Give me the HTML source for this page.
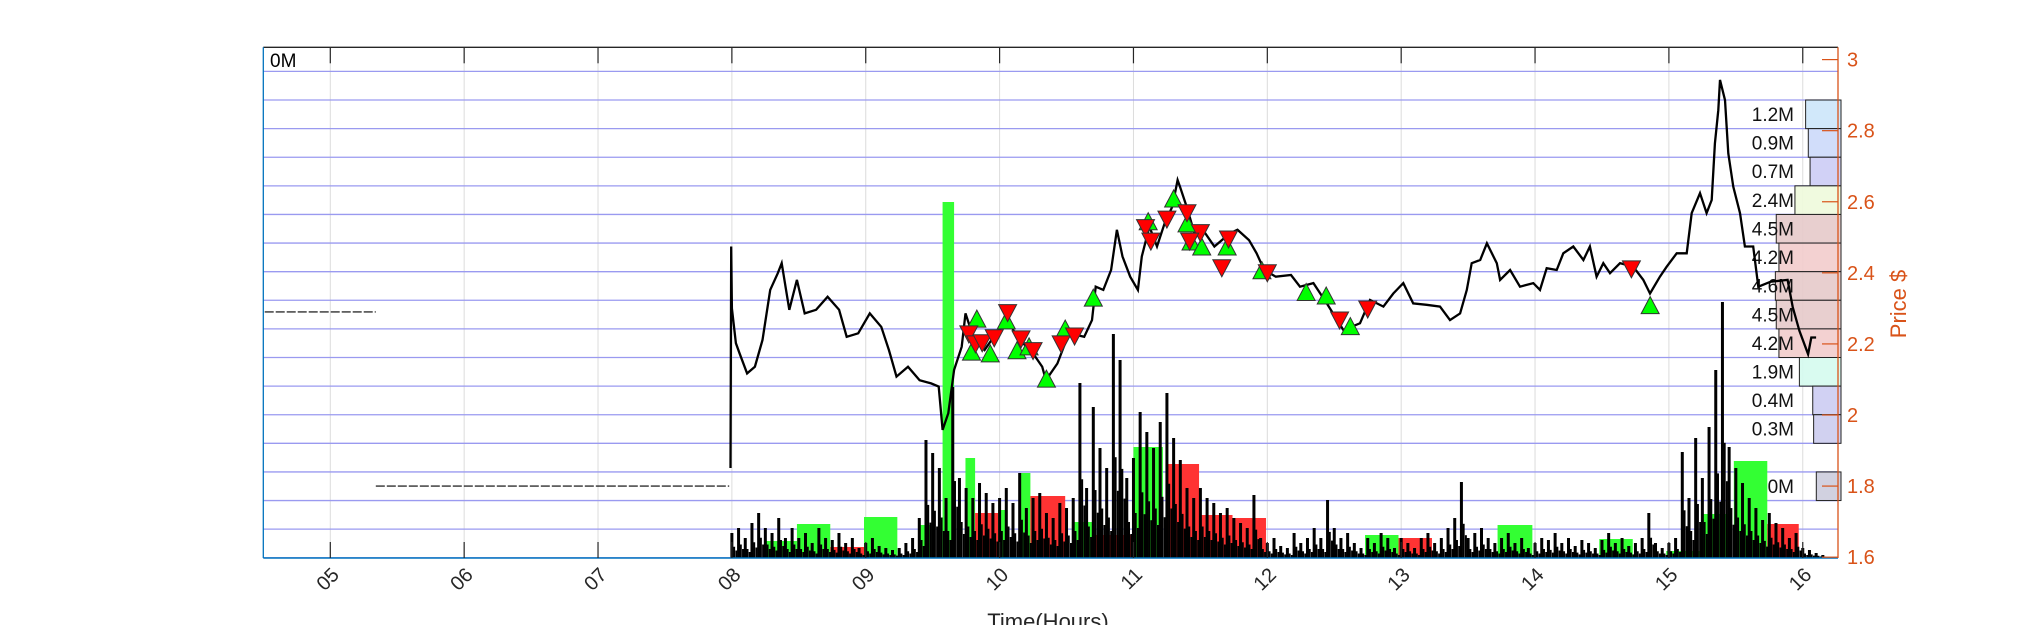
<!DOCTYPE html>
<html><head><meta charset="utf-8">
<style>
html,body{margin:0;padding:0;background:#fff;}
svg{display:block;font-family:"Liberation Sans",sans-serif;}
</style></head>
<body>
<svg id="chart" width="2031" height="625" viewBox="0 0 2031 625">
<rect x="0" y="0" width="2031" height="625" fill="#fff"/>
<g id="grid"></g>
<g id="blocks"></g>
<g id="spikes"></g>
<g id="profile"></g>
<g id="priceg"></g>
<g id="signals"></g>
<g id="axes"></g>
<text x="270" y="67" font-size="19" fill="#000">0M</text>
<text x="1048" y="629" font-size="22" fill="#262626" text-anchor="middle">Time(Hours)</text>
<text transform="translate(1906,304) rotate(-90)" font-size="22" fill="#D95319" text-anchor="middle">Price $</text>
</svg>
<script>
// ---- data ----
const hourTicks = [5,6,7,8,9,10,11,12,13,14,15,16];
const hourTickLabels = ["05","06","07","08","09","10","11","12","13","14","15","16"];
const priceTicks = [3,2.8,2.6,2.4,2.2,2,1.8,1.6];
const priceTickLabels = ["3","2.8","2.6","2.4","2.2","2","1.8","1.6"];
const preStart = [4.51,5.34];
const preEnd = [5.34,7.98];
const prePrice = [2.29,1.80];
const priceHours = [7.99,7.995,8.0,8.03,8.057,8.114,8.172,8.229,8.286,8.343,8.372,8.429,8.486,8.544,8.629,8.715,8.801,8.858,8.944,9.03,9.116,9.173,9.23,9.316,9.402,9.488,9.545,9.574,9.617,9.66,9.717,9.745,9.803,9.888,9.974,10.06,10.146,10.232,10.318,10.346,10.432,10.518,10.632,10.69,10.718,10.775,10.833,10.876,10.918,10.976,11.033,11.062,11.119,11.176,11.233,11.29,11.33,11.348,11.405,11.462,11.519,11.605,11.72,11.777,11.863,11.92,11.977,12.063,12.177,12.244,12.344,12.444,12.568,12.692,12.767,12.867,12.941,13.016,13.09,13.19,13.29,13.365,13.44,13.49,13.527,13.59,13.64,13.714,13.739,13.814,13.888,13.987,14.037,14.087,14.162,14.211,14.286,14.361,14.41,14.46,14.51,14.56,14.635,14.734,14.809,14.859,14.933,14.983,15.058,15.133,15.17,15.232,15.282,15.32,15.344,15.369,15.382,15.419,15.444,15.481,15.531,15.568,15.63,15.668,15.76,15.887,15.925,15.975,16.04,16.064,16.1];
const priceValues = [1.851,2.474,2.30,2.202,2.174,2.117,2.136,2.211,2.352,2.399,2.427,2.296,2.380,2.286,2.296,2.333,2.296,2.220,2.230,2.286,2.248,2.183,2.108,2.136,2.098,2.089,2.080,1.958,2.005,2.127,2.192,2.286,2.220,2.183,2.230,2.267,2.211,2.183,2.136,2.098,2.145,2.230,2.220,2.267,2.361,2.352,2.408,2.521,2.446,2.389,2.352,2.446,2.530,2.474,2.539,2.586,2.661,2.642,2.577,2.502,2.521,2.474,2.511,2.521,2.492,2.455,2.408,2.389,2.394,2.361,2.371,2.314,2.239,2.258,2.324,2.305,2.342,2.371,2.314,2.310,2.305,2.267,2.286,2.352,2.427,2.436,2.483,2.427,2.380,2.408,2.361,2.371,2.352,2.413,2.408,2.455,2.474,2.436,2.474,2.389,2.427,2.399,2.427,2.417,2.380,2.342,2.389,2.417,2.455,2.455,2.568,2.624,2.568,2.605,2.764,2.858,2.943,2.886,2.736,2.642,2.568,2.474,2.474,2.361,2.375,2.380,2.304,2.237,2.171,2.218,2.218];
const buyHours = [9.83,9.79,9.93,10.05,10.13,10.22,10.35,10.49,10.7,11.11,11.3,11.4,11.43,11.51,11.7,11.96,12.29,12.44,12.62,14.86];
const buyPrices = [2.267,2.174,2.169,2.262,2.178,2.189,2.098,2.239,2.326,2.541,2.605,2.535,2.484,2.470,2.470,2.403,2.342,2.332,2.246,2.305];
const sellHours = [9.77,9.82,9.87,9.96,10.06,10.16,10.25,10.46,10.56,11.09,11.13,11.25,11.4,11.5,11.42,11.66,11.71,12.0,12.54,12.75,14.72];
const sellPrices = [2.231,2.203,2.206,2.220,2.291,2.217,2.184,2.203,2.225,2.530,2.492,2.554,2.572,2.516,2.492,2.417,2.498,2.403,2.270,2.301,2.414];
const blockStart = [8.243,8.486,8.735,8.987,9.402,9.574,9.745,9.817,9.989,10.16,10.23,10.54,10.70,11.0,11.24,11.49,11.74,12.73,12.98,13.72,14.48,14.98,15.24,15.485,15.735];
const blockEnd = [8.486,8.735,8.987,9.236,9.488,9.66,9.817,9.989,10.06,10.23,10.49,10.70,10.99,11.22,11.49,11.74,11.99,12.98,13.23,13.98,14.73,15.23,15.47,15.735,15.97];
const blockVolumeK = [17,34,11,41,33,356,100,45,48,85,62,36,23,111,94,43,40,23,20,33,19,7,44,97,34];
const blockSide = ["b","b","s","b","b","b","b","s","b","b","s","b","s","b","s","s","s","b","s","b","b","b","b","b","s"];
const spikeStartHour = 8.0;
const spikeStepHour = 0.05;
const spikeVolumeK = [25,30,20,35,45,30,25,40,20,30, 20,25,15,30,20,18,25,15,20,10, 15,20,12,10,8,10,15,20,40,118, 105,90,60,171,80,70,60,75,65,55, 60,70,55,85,50,60,65,45,40,55, 50,60,175,70,151,110,90,224,198,80, 100,146,126,110,136,165,120,98,70,60, 70,60,55,45,50,40,35,30,63,20, 15,20,12,10,25,15,20,30,20,58, 30,20,25,15,10,20,15,25,20,10, 20,15,10,20,25,15,20,30,40,76, 20,25,30,20,15,20,25,15,20,10, 15,20,18,25,15,20,12,18,15,10, 18,25,15,20,12,15,20,45,15,10, 15,20,106,60,120,80,131,188,256,111, 90,75,60,50,38,45,35,30,20,25, 10,8,5,3];
const profileRows = [1,2,3,4,5,6,7,8,9,10,11,12,14];
const profileVolumeM = [1.2,0.9,0.7,2.4,4.5,4.2,4.6,4.5,4.2,1.9,0.4,0.3,0];
const profileLabels = ["1.2M","0.9M","0.7M","2.4M","4.5M","4.2M","4.6M","4.5M","4.2M","1.9M","0.4M","0.3M","0M"];
const profileColors = ["#cce5fa","#ccd9fa","#ccccf5","#eefadc","#e5caca","#f2cccc","#e5caca","#e5caca","#f2cccc","#d5fbee","#ccccf2","#ccccee","#ccccdd"];

// ---- scales ----
const L=263.3,R=1838,T=47.3,B=558;
function xH(h){return 330.3+(h-5)*133.86;}
function yP(p){return 59.6+(3-p)*355.4;}
function yV(v){return B-v;}
function rowY(k){return 71.4+28.61*k;}
const NS="http://www.w3.org/2000/svg";
function mk(tag,attrs,parent){const e=document.createElementNS(NS,tag);for(const k in attrs)e.setAttribute(k,attrs[k]);parent.appendChild(e);return e;}

const grid=document.getElementById('grid');
hourTicks.forEach(h=>{
  const l=mk('line',{x1:xH(h),x2:xH(h),y1:T,y2:B,stroke:'#dcdcdc','stroke-width':1},grid);
  
  
});
for(let k=0;k<=17;k++){
  const l=mk('line',{x1:L,x2:R,y1:rowY(k),y2:rowY(k),stroke:'#9a9af0','stroke-width':1.3},grid);
  
  
}

// volume blocks
const blocks=document.getElementById('blocks');
blockStart.forEach((s,i)=>{
  const r=mk('rect',{x:xH(s),y:yV(blockVolumeK[i]),width:xH(blockEnd[i])-xH(s),height:blockVolumeK[i],fill:blockSide[i]==='b'?'#33ff33':'#ff3333'},blocks);
  
  
});
// spikes
const spikes=document.getElementById('spikes');
spikeVolumeK.forEach((v,i)=>{
  const h=spikeStartHour+i*spikeStepHour;
  const r=mk('rect',{x:xH(h)-1.5,y:yV(v),width:3,height:v,fill:'#000'},spikes);
  
  
  const r2=mk('rect',{x:xH(h+spikeStepHour/3)-1,y:yV(v*0.45),width:2,height:v*0.45,fill:'#000'},spikes);
  
  
  const r3=mk('rect',{x:xH(h+2*spikeStepHour/3)-1,y:yV(v*0.3),width:2,height:v*0.3,fill:'#000'},spikes);
  
  
});

// profile
const prof=document.getElementById('profile');
profileRows.forEach((k,i)=>{
  const w=24.7+8.9*profileVolumeM[i];
  const r=mk('rect',{x:1841-w,y:rowY(k),width:w,height:28.61,fill:profileColors[i],'fill-opacity':0.9,stroke:'#222','stroke-width':1},prof);
  
  
  const t=mk('text',{x:1794,y:rowY(k)+21,'font-size':19,'text-anchor':'end',fill:'#111'},prof);
  t.textContent=profileLabels[i];
  
  
});

// price
const pg=document.getElementById('priceg');
preStart.forEach((s,i)=>{
  const l=mk('line',{x1:xH(s),x2:xH(preEnd[i]),y1:yP(prePrice[i]),y2:yP(prePrice[i]),stroke:'#000','stroke-width':1.2,'stroke-dasharray':'9 2'},pg);
  
  
});
const pts=priceHours.map((h,i)=>xH(h).toFixed(1)+','+yP(priceValues[i]).toFixed(1)).join(' ');
const pl=mk('polyline',{points:pts,fill:'none',stroke:'#000','stroke-width':2.3,'stroke-linejoin':'miter'},pg);



// signals
const sg=document.getElementById('signals');
buyHours.forEach((h,i)=>{
  const x=xH(h),y=yP(buyPrices[i]);
  const p=mk('polygon',{points:`${x},${y-10} ${x-9},${y+7} ${x+9},${y+7}`,fill:'#00ff00',stroke:'#333','stroke-width':1},sg);
  
  
});
sellHours.forEach((h,i)=>{
  const x=xH(h),y=yP(sellPrices[i]);
  const p=mk('polygon',{points:`${x},${y+10} ${x-9},${y-7} ${x+9},${y-7}`,fill:'#ff0000',stroke:'#333','stroke-width':1},sg);
  
  
});

// axes
const ax=document.getElementById('axes');
let e;
e=mk('line',{x1:L,x2:R,y1:T,y2:T,stroke:'#262626','stroke-width':1.3},ax);


e=mk('line',{x1:L,x2:L,y1:T,y2:B,stroke:'#0072BD','stroke-width':1.3},ax);


e=mk('line',{x1:L,x2:R,y1:B,y2:B,stroke:'#0072BD','stroke-width':1.6},ax);


e=mk('line',{x1:R,x2:R,y1:T,y2:B,stroke:'#D95319','stroke-width':1.3},ax);


hourTicks.forEach((h,i)=>{
  const x=xH(h);
  let t=mk('line',{x1:x,x2:x,y1:T,y2:T+16,stroke:'#262626','stroke-width':1.2},ax);
  
  
  t=mk('line',{x1:x,x2:x,y1:B,y2:B-16,stroke:'#262626','stroke-width':1.2},ax);
  
  
  const lb=mk('text',{transform:`translate(${x+10},${B+18}) rotate(-45)`,'font-size':20,'text-anchor':'end',fill:'#262626'},ax);
  lb.textContent=hourTickLabels[i];
  
  
});
priceTicks.forEach((p,i)=>{
  const y=yP(p);
  let t=mk('line',{x1:R-16,x2:R,y1:y,y2:y,stroke:'#D95319','stroke-width':1.2},ax);
  
  
  const lb=mk('text',{x:1847,y:y+7,'font-size':20,fill:'#D95319'},ax);
  lb.textContent=priceTickLabels[i];
  
  
});
</script>
</body></html>
